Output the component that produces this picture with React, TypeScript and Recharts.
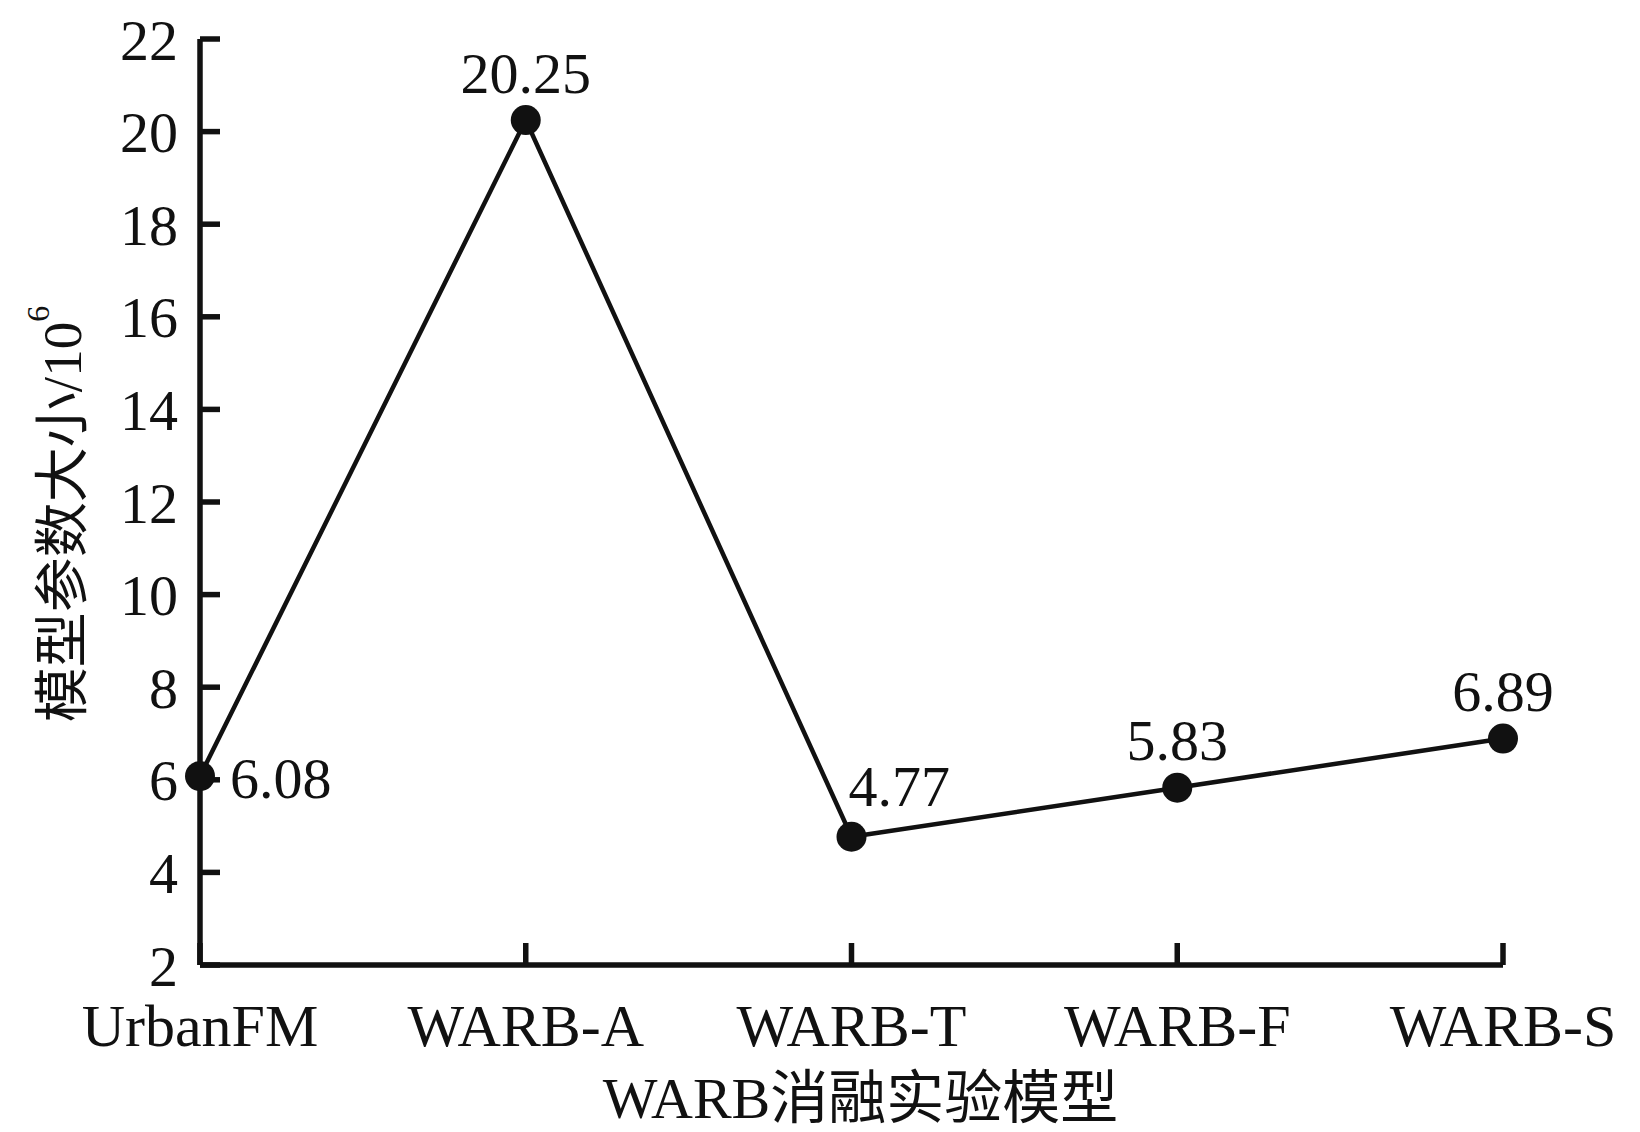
import { LineChart, Line, XAxis, YAxis, LabelList } from 'recharts'

document.body.style.margin = '0'

const models = ['UrbanFM', 'WARB-A', 'WARB-T', 'WARB-F', 'WARB-S']
const paramSizes = [6.08, 20.25, 4.77, 5.83, 6.89]
const yTicks = [2, 4, 6, 8, 10, 12, 14, 16, 18, 20, 22]

const data = models.map((m, i) => ({ model: m, size: paramSizes[i] }))

const FONT = '"Liberation Serif", "Times New Roman", "Noto Sans CJK SC", serif'
const INK = '#111'

// value labels: first one sits to the right of its dot, 4.77 a bit to the right, rest above
const renderValue = (props: any) => {
  const x = props.x ?? props.viewBox?.x
  const y = props.y ?? props.viewBox?.y
  const { value, index } = props
  let tx = x
  let ty = y - 47
  let anchor: 'start' | 'middle' = 'middle'
  if (index === 0) {
    tx = x + 30
    ty = y + 2
    anchor = 'start'
  } else if (index === 2) {
    tx = x - 3
    ty = y - 50
    anchor = 'start'
  }
  return (
    <text x={tx} y={ty} textAnchor={anchor} dominantBaseline="central" fontFamily={FONT} fontSize={58} fill={INK}>
      {value}
    </text>
  )
}

const renderYTitle = (props: any) => {
  const vb = props.viewBox
  const cx = vb.x + 22
  const cy = vb.y + vb.height / 2 + 12
  return (
    <text x={cx} y={cy} transform={`rotate(-90 ${cx} ${cy})`} textAnchor="middle" dominantBaseline="central" fontFamily={FONT} fontSize={55} fill={INK}>
      模型参数大小/10<tspan fontSize={32} dy={-24}>6</tspan>
    </text>
  )
}

const renderXTitle = (props: any) => {
  const vb = props.viewBox
  const cx = vb.x + vb.width / 2 + 9
  const cy = vb.y + 133
  return (
    <text x={cx} y={cy} textAnchor="middle" dominantBaseline="central" fontFamily={FONT} fontSize={58} fill={INK}>
      WARB消融实验模型
    </text>
  )
}

export default function App() {
  return (
    <div style={{ width: 1640, height: 1132, background: '#fff' }}>
      <LineChart width={1640} height={1132} data={data} margin={{ top: 39, right: 137, bottom: 17, left: 40 }}>
        <XAxis
          dataKey="model"
          height={150}
          axisLine={{ stroke: INK, strokeWidth: 5.5 }}
          tickLine={{ stroke: INK, strokeWidth: 5.5 }}
          tickSize={-22}
          tickMargin={60}
          tick={{ fontFamily: FONT, fontSize: 60, fill: INK }}
          interval={0}
          label={{ content: renderXTitle }}
        />
        <YAxis
          domain={[2, 22]}
          ticks={yTicks}
          width={160}
          axisLine={{ stroke: INK, strokeWidth: 5.5 }}
          tickLine={{ stroke: INK, strokeWidth: 5.5 }}
          tickSize={-20}
          tickMargin={42}
          tick={{ fontFamily: FONT, fontSize: 58, fill: INK }}
          interval={0}
          label={{ content: renderYTitle }}
        />
        <Line
          dataKey="size"
          type="linear"
          stroke={INK}
          strokeWidth={4.5}
          dot={{ r: 15, fill: INK, stroke: INK, strokeWidth: 0 }}
          activeDot={false}
          isAnimationActive={false}
        >
          <LabelList dataKey="size" content={renderValue} />
        </Line>
      </LineChart>
    </div>
  )
}
